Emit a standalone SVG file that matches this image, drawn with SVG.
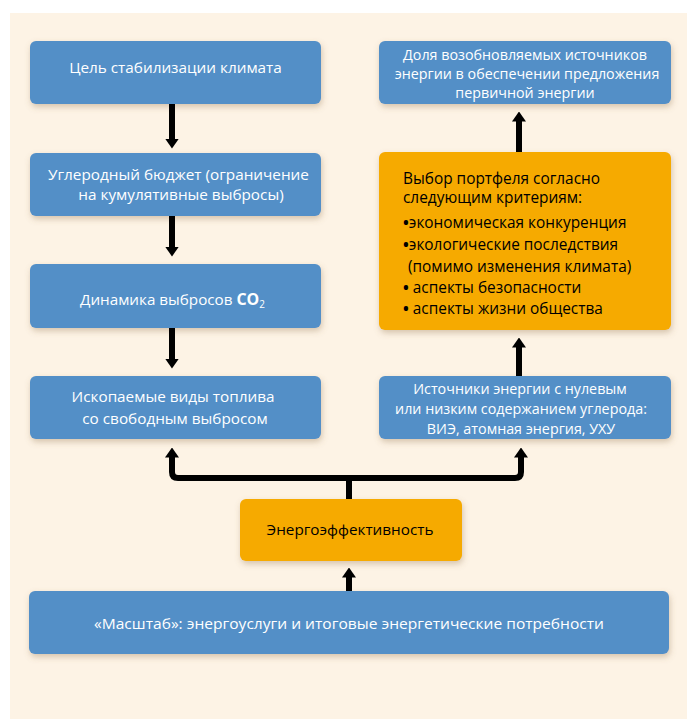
<svg xmlns="http://www.w3.org/2000/svg" width="687" height="719" viewBox="0 0 687 719">
<defs>
<filter id="sh" x="-10%" y="-20%" width="120%" height="150%">
<feDropShadow dx="1" dy="3" stdDeviation="3" flood-color="#8a6a40" flood-opacity="0.35"/>
</filter>
<marker id="ah" viewBox="0 -7 10 14" markerWidth="10" markerHeight="14" refX="0.5" refY="0" orient="auto" markerUnits="userSpaceOnUse">
<path d="M0,-7 L10,0 L0,7 z" fill="#000"/>
</marker>
</defs>
<style>
.blue{fill:#528fc7;filter:url(#sh)}
.orange{fill:#f6aa00;filter:url(#sh)}
.wt{font-family:"Open Sans","Noto Sans","DejaVu Sans",sans-serif;font-size:15.3px;fill:#fff;text-anchor:middle}
.wr{font-family:"Open Sans","Noto Sans","DejaVu Sans",sans-serif;font-size:14.3px;fill:#fff;text-anchor:middle}
.bt{font-family:"Open Sans","Noto Sans","DejaVu Sans",sans-serif;font-size:15.4px;fill:#000}
.bl{font-weight:bold}
.c{fill:none;stroke:#000;stroke-width:6}
</style>
<rect x="10" y="13" width="677" height="706" fill="#fdf3e5"/>
<g id="n1"><rect class="blue" x="30" y="41" width="291" height="63" rx="6"/>
<text class="wt" x="175.5" y="73">Цель стабилизации климата</text></g>
<g id="n2"><rect class="blue" x="30" y="153" width="291" height="63" rx="6"/>
<text class="wt" x="178.5" y="180">Углеродный бюджет (ограничение</text>
<text class="wt" x="181" y="200">на кумулятивные выбросы)</text></g>
<g id="n3"><rect class="blue" x="30" y="264" width="291" height="64" rx="6"/>
<text class="wt" x="172.5" y="305" textLength="185" lengthAdjust="spacingAndGlyphs">Динамика выбросов <tspan font-weight="bold" font-size="16">CO</tspan><tspan font-size="10" dy="3">2</tspan></text></g>
<g id="n4"><rect class="blue" x="30" y="376" width="291" height="63" rx="6"/>
<text class="wt" x="173" y="402">Ископаемые виды топлива</text>
<text class="wt" x="175" y="424">со свободным выбросом</text></g>
<g id="n5"><rect class="blue" x="379" y="41" width="292" height="63" rx="6"/>
<text class="wr" x="525" y="60">Доля возобновляемых источников</text>
<text class="wr" x="527" y="79">энергии в обеспечении предложения</text>
<text class="wr" x="525" y="98">первичной энергии</text></g>
<g id="n6"><rect class="orange" x="379" y="152" width="292" height="178" rx="6"/>
<text class="bt" x="403" y="184">Выбор портфеля согласно</text>
<text class="bt" x="403" y="203">следующим критериям:</text>
<text class="bt" x="403" y="228"><tspan class="bl">•</tspan>экономическая конкуренция</text>
<text class="bt" x="403" y="250"><tspan class="bl">•</tspan>экологические последствия</text>
<text class="bt" x="408" y="272">(помимо изменения климата)</text>
<text class="bt" x="403" y="293"><tspan class="bl">•</tspan> аспекты безопасности</text>
<text class="bt" x="403" y="314"><tspan class="bl">•</tspan> аспекты жизни общества</text></g>
<g id="n7"><rect class="blue" x="379" y="376" width="292" height="63" rx="6"/>
<text class="wr" x="520" y="394">Источники энергии с нулевым</text>
<text class="wr" x="521" y="414">или низким содержанием углерода:</text>
<text class="wr" x="521" y="434">ВИЭ, атомная энергия, УХУ</text></g>
<g id="n8"><rect class="orange" x="240" y="499" width="222" height="62" rx="6"/>
<text class="wt" x="350" y="535" style="fill:#000;font-size:15px" textLength="167" lengthAdjust="spacingAndGlyphs">Энергоэффективность</text></g>
<g id="n9"><rect class="blue" x="29" y="591" width="640" height="63" rx="6"/>
<text class="wt" x="349" y="629" style="font-size:15px" textLength="510" lengthAdjust="spacingAndGlyphs">«Масштаб»: энергоуслуги и итоговые энергетические потребности</text></g>
<g id="connectors">
<path class="c" d="M172,104 V139" marker-end="url(#ah)"/>
<path class="c" d="M172,216 V247" marker-end="url(#ah)"/>
<path class="c" d="M172,328 V359" marker-end="url(#ah)"/>
<path class="c" d="M519,152 V121" marker-end="url(#ah)"/>
<path class="c" d="M519,376 V347" marker-end="url(#ah)"/>
<path class="c" d="M349,499 V478 H178 Q172,478 172,472 V457" marker-end="url(#ah)"/>
<path class="c" d="M349,478 H515 Q521,478 521,472 V457" marker-end="url(#ah)"/>
<path class="c" d="M349,591 V577" marker-end="url(#ah)"/>
</g>
</svg>
